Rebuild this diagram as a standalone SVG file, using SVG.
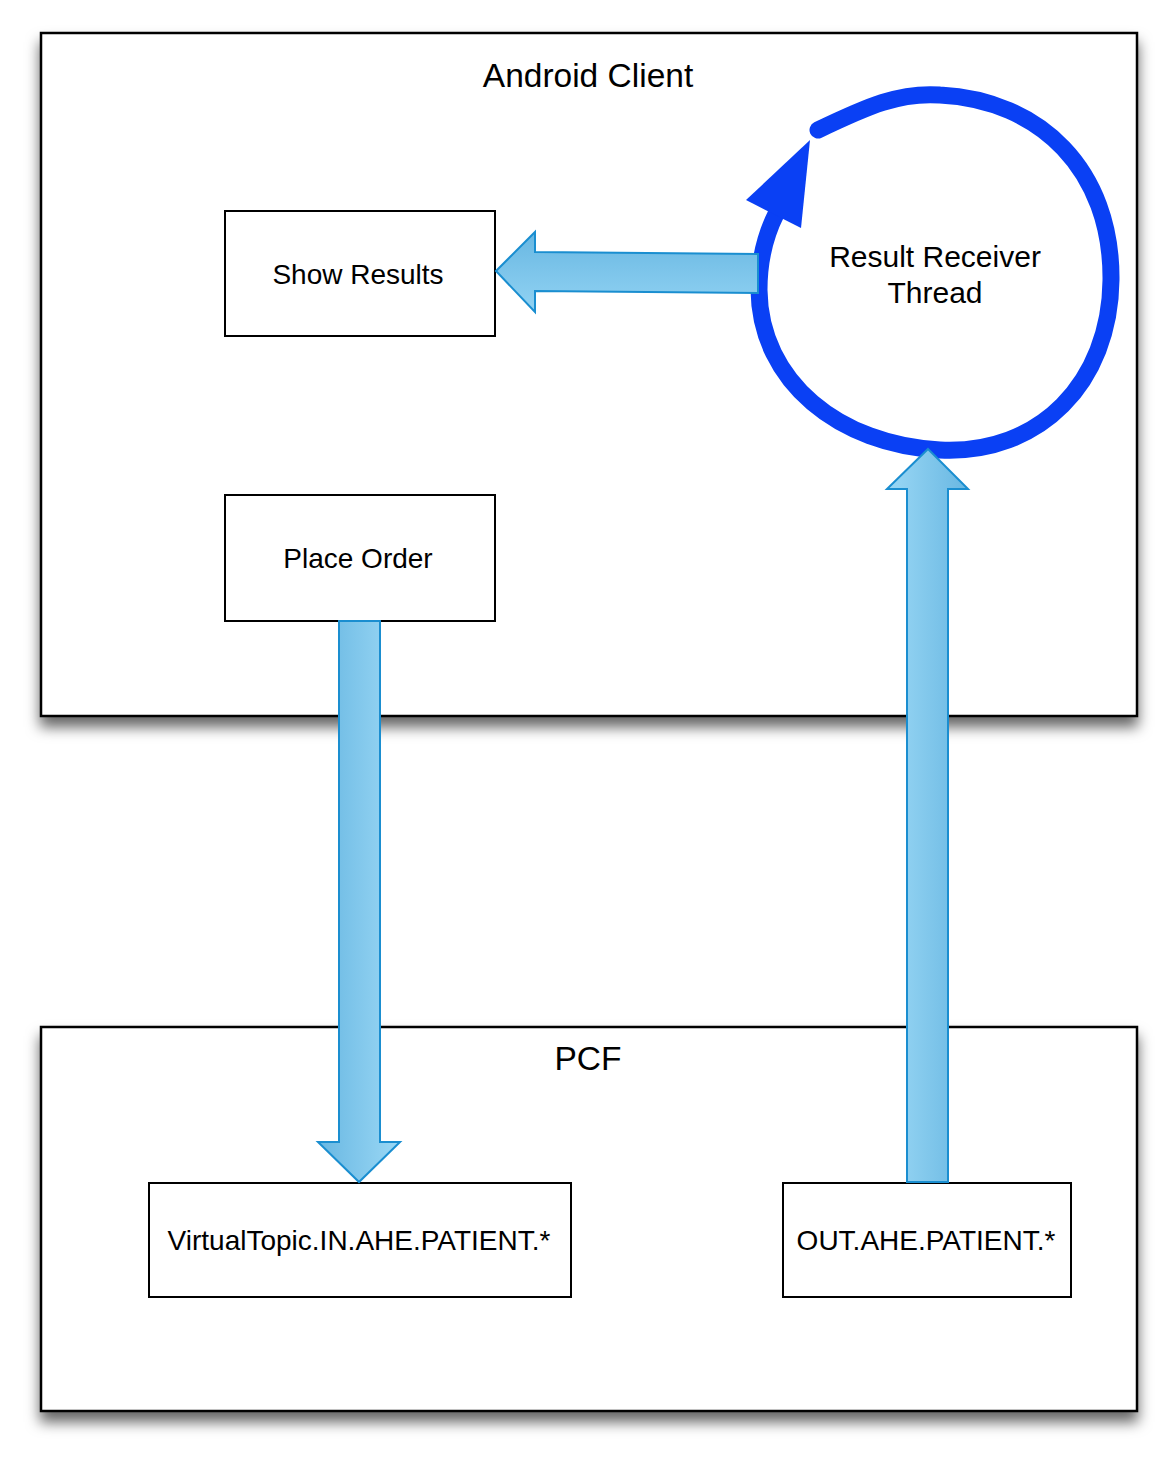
<svg xmlns="http://www.w3.org/2000/svg" width="1176" height="1458" viewBox="0 0 1176 1458">
<style>
.container{fill:#fff;stroke:#000;stroke-width:2.5;filter:url(#shadow)}
.box{fill:#fff;stroke:#000;stroke-width:2}
.t{font-family:"Liberation Sans",Arial,Helvetica,sans-serif;fill:#000;text-anchor:middle}
.title{font-size:33.5px}
.lbl{font-size:28px}
.flow{stroke:#1a8ed0;stroke-width:2;stroke-linejoin:miter}
</style>
<defs>
<filter id="shadow" x="-10%" y="-10%" width="120%" height="130%">
<feDropShadow dx="0" dy="10" stdDeviation="7" flood-color="#000" flood-opacity="0.6"/>
</filter>
<linearGradient id="gV" x1="0" y1="0" x2="0" y2="1">
<stop offset="0" stop-color="#68b7e2"/>
<stop offset="1" stop-color="#92d3f3"/>
</linearGradient>
<linearGradient id="gLR" x1="0" y1="0" x2="1" y2="0">
<stop offset="0" stop-color="#68b7e2"/>
<stop offset="1" stop-color="#9bd8f5"/>
</linearGradient>
<linearGradient id="gRL" x1="0" y1="0" x2="1" y2="0">
<stop offset="0" stop-color="#9bd8f5"/>
<stop offset="1" stop-color="#68b7e2"/>
</linearGradient>
</defs>

<g id="android-client">
<rect class="container" x="41" y="33" width="1096" height="683"/>
<text class="t title" x="588" y="87">Android Client</text>
</g>

<g id="pcf">
<rect class="container" x="41" y="1027" width="1096" height="384"/>
<text class="t title" x="588" y="1070">PCF</text>
</g>

<g id="show-results">
<rect class="box" x="225" y="211" width="270" height="125"/>
<text class="t lbl" x="358" y="284">Show Results</text>
</g>

<g id="place-order">
<rect class="box" x="225" y="495" width="270" height="126"/>
<text class="t lbl" x="358" y="568">Place Order</text>
</g>

<g id="virtual-topic">
<rect class="box" x="149" y="1183" width="422" height="114"/>
<text class="t lbl" x="359" y="1250">VirtualTopic.IN.AHE.PATIENT.*</text>
</g>

<g id="out-patient">
<rect class="box" x="783" y="1183" width="288" height="114"/>
<text class="t lbl" x="926" y="1250">OUT.AHE.PATIENT.*</text>
</g>

<g id="result-receiver-thread">
<path d="M818,130 C868,106 900,92 940,95 C1040,100 1112,170 1111,280 C1110,382 1040,455 940,450 C840,445 760,382 759,290 C759,262 764,238 776,214" fill="none" stroke="#0a40f4" stroke-width="17" stroke-linecap="round"/>
<polygon points="810,140 746,200 801,228" fill="#0a40f4"/>
<text class="t" style="font-size:30px" x="935" y="267">Result Receiver</text>
<text class="t" style="font-size:30px" x="935" y="303">Thread</text>
</g>

<g id="connectors">
<polygon class="flow" fill="url(#gV)" points="496,271 535,232 535,252 758,254 758,293 535,291 535,312"/>
<polygon class="flow" fill="url(#gLR)" points="339,621 380,621 380,1142 400,1142 359,1182 318,1142 339,1142"/>
<polygon class="flow" fill="url(#gRL)" points="928,449 968,489 948,489 948,1182 907,1182 907,489 887,489"/>
</g>
</svg>
